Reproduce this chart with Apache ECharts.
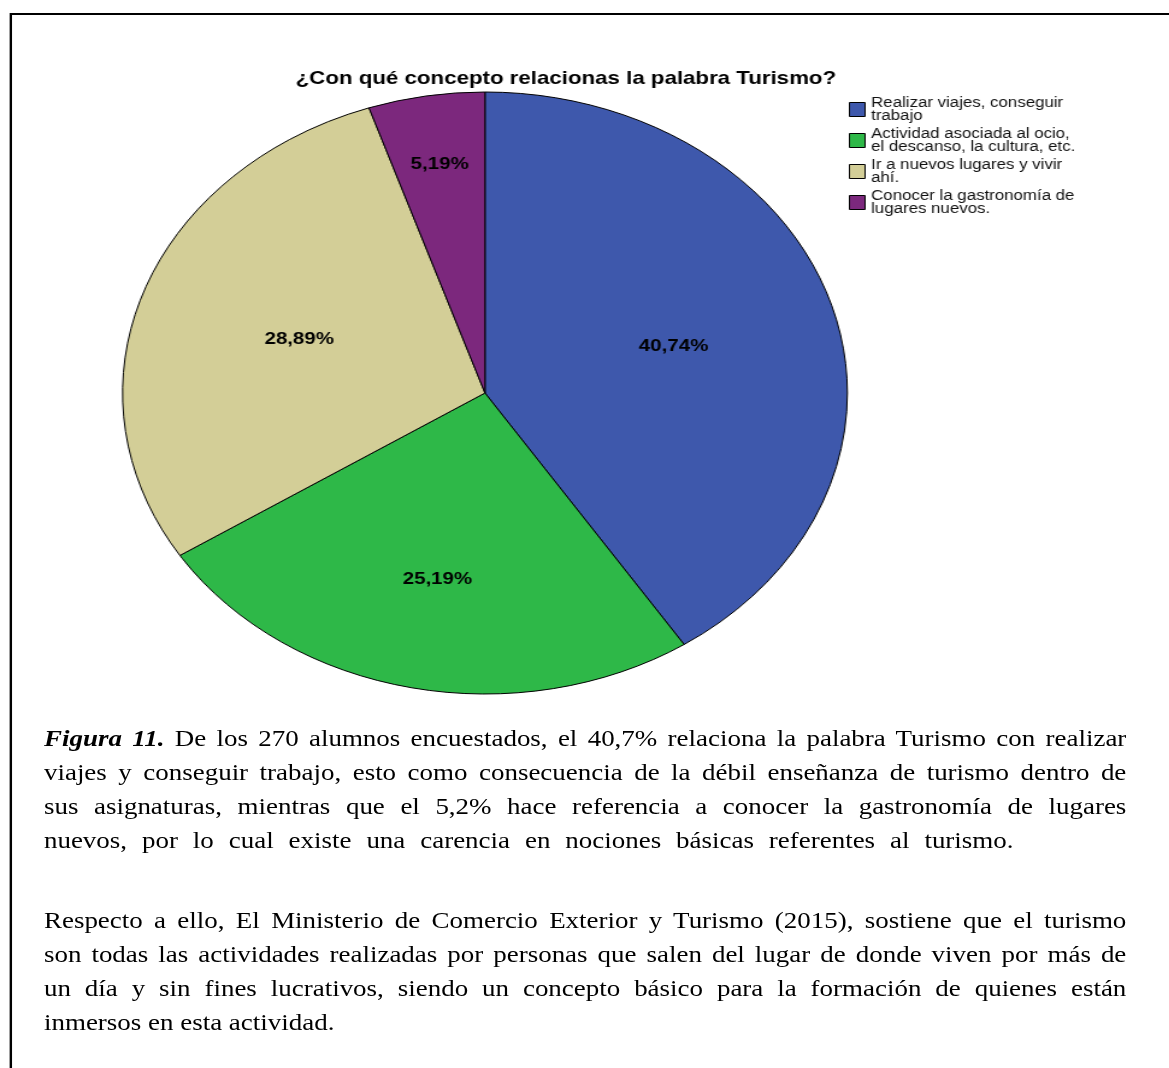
<!DOCTYPE html>
<html>
<head>
<meta charset="utf-8">
<script src="https://cdn.jsdelivr.net/npm/echarts@6/dist/echarts.min.js"></script>
<style>
  html, body { margin: 0; padding: 0; background: #fff; width: 1169px; height: 1068px; overflow: hidden; }
  #wrap { position: absolute; left: 0; top: 0; width: 971px; height: 1068px; transform: scaleX(1.204); transform-origin: 0 0; }
  #frame { position: absolute; left: 7.5px; top: 13px; width: 1100px; height: 1200px; border: 2px solid #000; box-sizing: border-box; }
  #chart { position: absolute; left: 0; top: 0; width: 971px; height: 720px; }
  #text { position: absolute; left: 36.5px; top: 722px; width: 899px; font-family: 'Liberation Serif', 'Times New Roman', serif; font-size: 22.4px; line-height: 34px; color: #000; }
  #text p { margin: 0 0 46px 0; }
  #text .ln { display: block; text-align: justify; text-align-last: justify; white-space: nowrap; }
  #text .ln.last { text-align: left; text-align-last: left; }
  #text .ln.wide { word-spacing: 6.8px; }
</style>
</head>
<body>
<div id="wrap">
<div id="frame"></div>
<div id="chart"></div>
<div id="text">
  <p><span class="ln"><b><i>Figura 11.</i></b> De los 270 alumnos encuestados, el 40,7% relaciona la palabra Turismo con realizar</span><span class="ln">viajes y conseguir trabajo, esto como consecuencia de la débil enseñanza de turismo dentro de</span><span class="ln">sus asignaturas, mientras que el 5,2% hace referencia a conocer la gastronomía de lugares</span><span class="ln last wide">nuevos, por lo cual existe una carencia en nociones básicas referentes al turismo.</span></p>
  <p><span class="ln">Respecto a ello, El Ministerio de Comercio Exterior y Turismo (2015), sostiene que el turismo</span><span class="ln">son todas las actividades realizadas por personas que salen del lugar de donde viven por más de</span><span class="ln">un día y sin fines lucrativos, siendo un concepto básico para la formación de quienes están</span><span class="ln last">inmersos en esta actividad.</span></p>
</div>
</div>
<script>
const titleText = '¿Con qué concepto relacionas la palabra Turismo?';
const categories = [
  'Realizar viajes, conseguir\ntrabajo',
  'Actividad asociada al ocio,\nel descanso, la cultura, etc.',
  'Ir a nuevos lugares y vivir\nahí.',
  'Conocer la gastronomía de\nlugares nuevos.'
];
const counts = [110, 68, 78, 14];
const colors = ['#3E58AC', '#2EB848', '#D3CE97', '#7C287D'];

const total = counts.reduce((a, b) => a + b, 0);
const pieData = categories.map((c, i) => ({ name: c, value: counts[i], itemStyle: { color: colors[i] } }));
const fmt = p => (p.value / total * 100).toFixed(2).replace('.', ',') + '%';

// transparent rings used only to place each slice's percentage label (inner radius per slice)
const labelInner = [20, 73, 20, 157];
const CENTER = [402.8, 393];
const R = 301;

const labelSeries = [...new Set(labelInner)].map(inner => ({
  type: 'pie',
  center: CENTER,
  radius: [inner, R],
  startAngle: 90,
  clockwise: true,
  silent: true,
  legendHoverLink: false,
  data: counts.map((v, i) => ({ name: 'lbl' + i, value: v, label: { show: labelInner[i] === inner } })),
  itemStyle: { color: 'rgba(0,0,0,0)', borderWidth: 0 },
  label: {
    position: 'inside',
    color: '#000',
    fontWeight: 'bold',
    fontSize: 17,
    fontFamily: "'Liberation Sans', Arial, sans-serif",
    formatter: fmt
  },
  labelLine: { show: false },
  labelLayout: { hideOverlap: false },
  emphasis: { disabled: true }
}));

const chart = echarts.init(document.getElementById('chart'), null, { renderer: 'canvas' });
chart.setOption({
  animation: false,
  title: {
    text: titleText,
    left: 465,
    textAlign: 'center',
    top: 64,
    textStyle: { fontFamily: "'Liberation Sans', Arial, sans-serif", fontWeight: 'bold', fontSize: 18.5, color: '#000' }
  },
  legend: {
    orient: 'vertical',
    left: 705,
    top: 96,
    padding: 0,
    itemWidth: 13,
    itemHeight: 14,
    itemGap: 4,
    icon: 'rect',
    selectedMode: false,
    itemStyle: { borderColor: '#000', borderWidth: 1 },
    textStyle: { fontFamily: "'Liberation Sans', Arial, sans-serif", fontSize: 14, lineHeight: 13, color: '#111' },
    data: categories
  },
  series: [{
    type: 'pie',
    center: CENTER,
    radius: [0, R],
    startAngle: 90,
    clockwise: true,
    data: pieData,
    itemStyle: { borderColor: '#000', borderWidth: 1 },
    label: { show: false },
    labelLine: { show: false },
    emphasis: { disabled: true }
  }, ...labelSeries]
});
</script>
</body>
</html>
